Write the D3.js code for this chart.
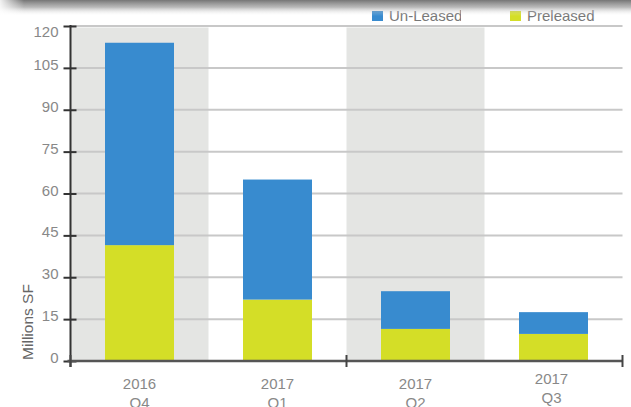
<!DOCTYPE html>
<html>
<head>
<meta charset="utf-8">
<script src="https://cdn.jsdelivr.net/npm/d3@7/dist/d3.min.js"></script>
<style>
  html, body { margin: 0; padding: 0; background: #fff; }
  svg { display: block; font-family: "Liberation Sans", Arial, sans-serif; }
</style>
</head>
<body>
<svg id="chart" width="631" height="407"></svg>
<script>
const categories = ["2016 Q4", "2017 Q1", "2017 Q2", "2017 Q3"];
const preleased = [41.5, 22, 11.5, 9.7];
const unLeased = [72.5, 43, 13.5, 7.8];
const yTicks = [0, 15, 30, 45, 60, 75, 90, 105, 120];
const seriesNames = ["Un-Leased", "Preleased"];
const colors = { "Un-Leased": "#388bcf", "Preleased": "#d4de27" };

(function () {
const svg = d3.select("#chart");
const mLeft = 70.5, mRight = 622.5, mTop = 26, mBottom = 361;

const y = d3.scaleLinear().domain([0, 120]).range([mBottom, mTop]);
const xOuter = d3.scaleBand().domain(categories).range([mLeft, mRight]).padding(0);
const x = d3.scaleBand().domain(categories).range([mLeft, mRight]).paddingInner(0.5).paddingOuter(0.25);

// alternating background shading
svg.append("g").selectAll("rect")
  .data(categories.filter((d, i) => i % 2 === 0))
  .join("rect")
  .attr("x", d => xOuter(d))
  .attr("y", y(120) + 1.5)
  .attr("width", xOuter.step())
  .attr("height", mBottom - y(120) - 1.5)
  .attr("fill", "#e4e5e3");

// gridlines
svg.append("g").selectAll("line")
  .data(yTicks.filter(d => d > 0))
  .join("line")
  .attr("x1", mLeft).attr("x2", mRight)
  .attr("y1", d => y(d)).attr("y2", d => y(d))
  .attr("stroke", "#c8c8c8").attr("stroke-width", 2);

// stacked bars
const rows = categories.map((c, i) => ({ cat: c, "Preleased": preleased[i], "Un-Leased": unLeased[i] }));
const stack = d3.stack().keys(["Preleased", "Un-Leased"])(rows);
svg.append("g").selectAll("g")
  .data(stack)
  .join("g")
  .attr("fill", s => colors[s.key])
  .selectAll("rect")
  .data(s => s)
  .join("rect")
  .attr("x", d => x(d.data.cat))
  .attr("width", x.bandwidth())
  .attr("y", d => y(d[1]))
  .attr("height", d => y(d[0]) - y(d[1]));

// y axis
const yAxis = d3.axisLeft(y).tickValues(yTicks).tickSize(0).tickPadding(12);
const gy = svg.append("g").attr("transform", `translate(${mLeft},0)`).call(yAxis);
gy.select(".domain").remove();
gy.selectAll("text")
  .attr("font-size", 15)
  .attr("fill", "#888")
  .attr("font-family", "Liberation Sans, Arial, sans-serif")
  .attr("dy", d => d === 120 ? "0.7em" : "0.1em");
gy.selectAll(".tick").append("line")
  .attr("x1", -7).attr("x2", 6)
  .attr("stroke", "#333").attr("stroke-width", 2);
svg.append("line")
  .attr("x1", mLeft).attr("x2", mLeft)
  .attr("y1", mTop - 1).attr("y2", mBottom + 6)
  .attr("stroke", "#333").attr("stroke-width", 2);

// x axis
svg.append("line")
  .attr("x1", mLeft - 3).attr("x2", mRight)
  .attr("y1", mBottom).attr("y2", mBottom)
  .attr("stroke", "#555").attr("stroke-width", 2.5);
const boundaryTicks = [0, 2, 4].map(i => mLeft + i * xOuter.step());
svg.append("g").selectAll("line")
  .data(boundaryTicks)
  .join("line")
  .attr("x1", d => d).attr("x2", d => d)
  .attr("y1", mBottom - 6).attr("y2", mBottom + 6)
  .attr("stroke", "#444").attr("stroke-width", 2);

const xl = svg.append("g").selectAll("text")
  .data(categories)
  .join("text")
  .attr("text-anchor", "middle")
  .attr("font-size", 15)
  .attr("fill", "#888")
  .attr("transform", (d, i) => `translate(${xOuter(d) + xOuter.step() / 2 - (i === categories.length - 1 ? 2 : 0)},${i === categories.length - 1 ? 384 : 389})`);
xl.selectAll("tspan")
  .data(d => d.split(" "))
  .join("tspan")
  .attr("x", 0)
  .attr("dy", (d, j) => j === 0 ? 0 : 19)
  .text(d => d);

// y title
svg.append("text")
  .attr("transform", "translate(33,322) rotate(-90)")
  .attr("text-anchor", "middle")
  .attr("font-size", 15.5)
  .attr("fill", "#666")
  .text("Millions SF");

// legend
const defs = svg.append("defs");
defs.append("clipPath").attr("id", "legclip")
  .append("rect").attr("x", -20).attr("y", 0).attr("width", 109).attr("height", 30);
const legX = [372, 510];
const leg = svg.append("g").selectAll("g")
  .data(seriesNames)
  .join("g")
  .attr("transform", (d, i) => `translate(${legX[i]},0)`);
leg.append("rect")
  .attr("x", 0).attr("y", 11).attr("width", 11).attr("height", 10)
  .attr("fill", d => colors[d]);
leg.append("text")
  .attr("x", 17).attr("y", 21)
  .attr("font-size", 15)
  .attr("fill", "#777")
  .attr("clip-path", (d, i) => i === 0 ? "url(#legclip)" : null)
  .text(d => d);

// top shadow
const grad = defs.append("linearGradient").attr("id", "shadow")
  .attr("x1", 0).attr("y1", 0).attr("x2", 0).attr("y2", 1);
grad.append("stop").attr("offset", 0).attr("stop-color", "#6e6e6e").attr("stop-opacity", 0.95);
grad.append("stop").attr("offset", 0.45).attr("stop-color", "#8a8a8a").attr("stop-opacity", 0.6);
grad.append("stop").attr("offset", 1).attr("stop-color", "#ffffff").attr("stop-opacity", 0);
svg.append("rect")
  .attr("x", 0).attr("y", 0).attr("width", 631).attr("height", 16)
  .attr("fill", "url(#shadow)");
const gradL = defs.append("linearGradient").attr("id", "shadowL")
  .attr("x1", 0).attr("y1", 0).attr("x2", 1).attr("y2", 0);
gradL.append("stop").attr("offset", 0).attr("stop-color", "#fff").attr("stop-opacity", 0.9);
gradL.append("stop").attr("offset", 1).attr("stop-color", "#fff").attr("stop-opacity", 0);
svg.append("rect")
  .attr("x", 0).attr("y", 0).attr("width", 24).attr("height", 16)
  .attr("fill", "url(#shadowL)");
})();
</script>
</body>
</html>
